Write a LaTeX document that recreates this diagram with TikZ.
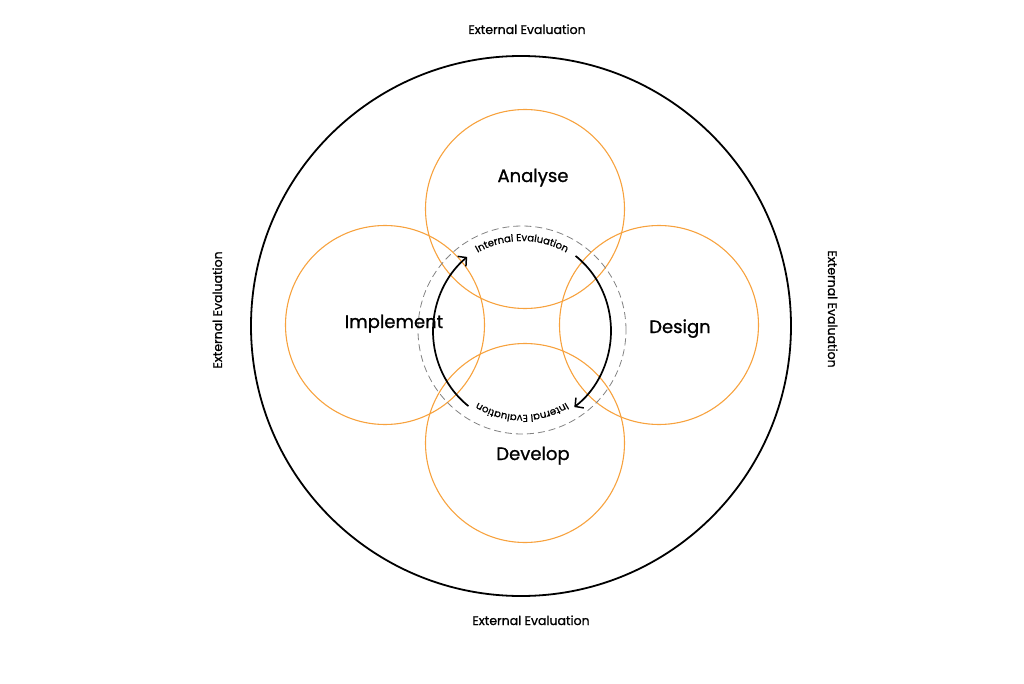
\documentclass[tikz,border=0pt]{standalone}
\usepackage{fontspec}
\setmainfont{Poppins}
\newfontfamily\poppinsmed[FakeBold=1]{Poppins}
\usepackage{tikz}
\usetikzlibrary{arrows.meta,decorations.text}
\definecolor{phaseorange}{RGB}{247,162,62}
\definecolor{dashgray}{RGB}{130,130,130}

\begin{document}
\begin{tikzpicture}[x=1pt,y=1pt,
  phase/.style={draw=phaseorange,line width=1.1pt,circle,minimum size=199pt,inner sep=0pt},
  phaselabel/.style={anchor=base,font=\poppinsmed\fontsize{18}{20}\selectfont},
  extlabel/.style={anchor=base,font=\poppinsmed\fontsize{12.5}{13}\selectfont},
  loop/.style={line width=1.7pt,-{Straight Barb[length=6pt,width=13pt,line width=1.5pt]}}]
  \useasboundingbox (-521,-357) rectangle (503,326);
  \node (outer) at (0,0) [draw,circle,line width=1.8pt,minimum size=540pt,inner sep=0pt] {};
  \node (analyse) at (4,117) [phase] {};
  \node (implement) at (-136,1) [phase] {};
  \node (design) at (138,1) [phase] {};
  \node (develop) at (4,-117) [phase] {};
  \node (inner) at (1,-4) [draw=dashgray,dash pattern=on 7pt off 4pt,line width=0.8pt,circle,minimum size=208pt,inner sep=0pt] {};
  \node (analyseL) at (12,144) [phaselabel] {Analyse};
  \node (implementL) at (-127,-2) [phaselabel] {Implement};
  \node (designL) at (159,-7) [phaselabel] {Design};
  \node (developL) at (12,-134) [phaselabel] {Develop};
  \node (extN) at (6,292) [extlabel] {External Evaluation};
  \node (extS) at (10,-299) [extlabel] {External Evaluation};
  \node (extW) at (-299,16) [extlabel,rotate=90] {External Evaluation};
  \node (extE) at (307,17) [extlabel,rotate=-90] {External Evaluation};
  % internal loop
  \draw[loop] ([shift={(1,-5)}]233:89 and 94) arc[start angle=233,end angle=128,x radius=89,y radius=94];
  \draw[loop] ([shift={(1,-5)}]53:89 and 94) arc[start angle=53,end angle=-54,x radius=89,y radius=94];
  \path[decorate,decoration={text along path,text align=center,text format delimiters={|}{|},
    text={|\poppinsmed\fontsize{10}{10}\selectfont|Internal Evaluation}}]
    ([shift={(1,-5)}]125:90) arc[start angle=125,end angle=55,radius=90];
  \path[decorate,decoration={text along path,text align=center,text format delimiters={|}{|},
    text={|\poppinsmed\fontsize{10}{10}\selectfont|Internal Evaluation}}]
    ([shift={(1,-5)}]-55:84) arc[start angle=-55,end angle=-125,radius=84];
\end{tikzpicture}
\end{document}
